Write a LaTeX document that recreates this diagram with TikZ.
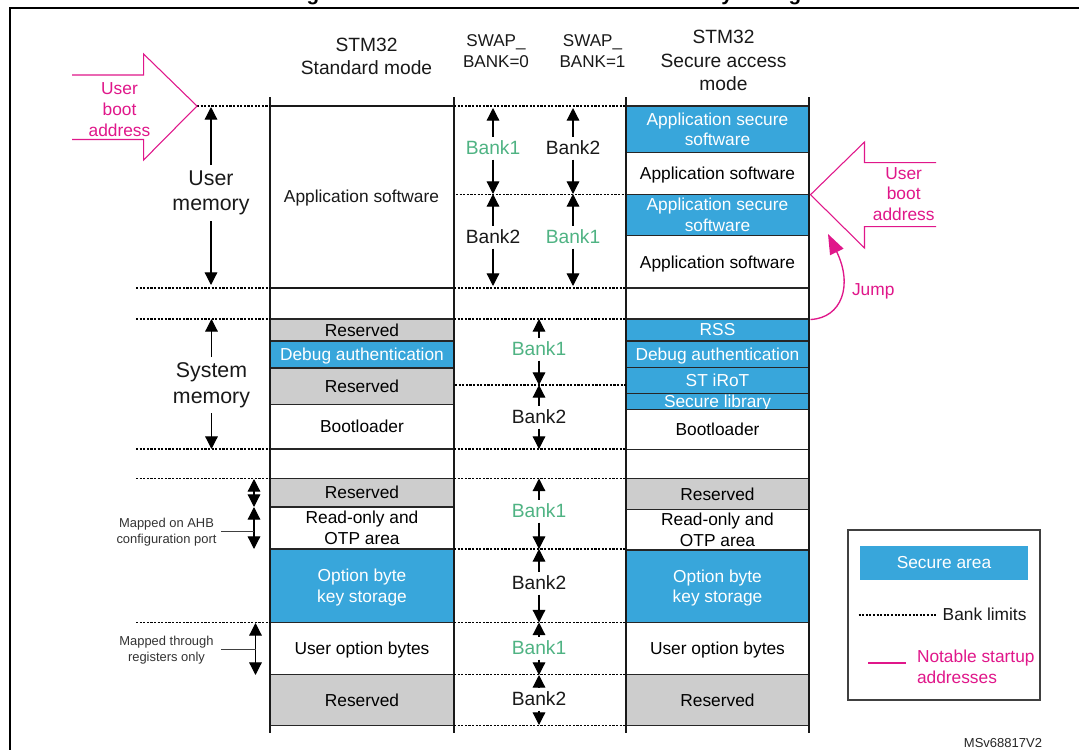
\documentclass[tikz,border=0pt]{standalone}
\usepackage{fontspec}
\setmainfont{Liberation Sans}
\usetikzlibrary{arrows.meta}
\definecolor{secblue}{HTML}{38A6DB}
\definecolor{resgray}{HTML}{CDCDCD}
\definecolor{notepink}{HTML}{E0178A}
\definecolor{bankgreen}{HTML}{4FB383}
\newcommand\nodp[1]{\raisebox{0pt}[\height][0pt]{#1}}
\tikzset{
  rowbox/.style={draw=black!85,line width=0.9pt,inner sep=0pt,outer sep=0pt,align=center,font=\fontsize{13}{15.6}\selectfont,text=black!90},
  lab/.style={inner sep=0pt,outer sep=0pt,align=center},
  headlab/.style={lab,font=\fontsize{14.4}{17.6}\selectfont,text=black!90},
  swaplab/.style={lab,font=\fontsize{12.8}{15.4}\selectfont,text=black!90},
  banklab/.style={lab,font=\fontsize{14.4}{16}\selectfont,minimum height=17.25pt},
  memlab/.style={lab,font=\fontsize{16}{19.3}\selectfont,text=black!90,minimum height=42pt},
  picklab/.style={lab,font=\fontsize{13}{15.6}\selectfont,text=notepink},
  smalllab/.style={lab,font=\fontsize{9.7}{11.6}\selectfont,text=black!80},
  arr/.style={-{Triangle[width=9.5pt,length=9.5pt]},line width=0.9pt,black},
  bothend/.style={{Triangle[width=9.5pt,length=9.5pt]}-{Triangle[width=9.5pt,length=9.5pt]},line width=0.9pt,black},
  limit/.style={line width=1pt,black,dash pattern=on 1.6pt off 1.1pt},
  colline/.style={line width=1.5pt,black!90},
  pinkline/.style={line width=0.8pt,notepink},
  leader/.style={line width=0.7pt,black!75},
}
% name, x1, y1, x2, y2, fill, text colour, text
\newcommand\cellbox[8]{%
  \pgfmathsetmacro\cx{(#2+#4)/2}\pgfmathsetmacro\cy{(#3+#5)/2}%
  \pgfmathsetmacro\cw{(#4-#2)*0.75}\pgfmathsetmacro\ch{(#5-#3)*0.75}%
  \node[rowbox,fill=#6,text=#7,minimum width=\cw pt,minimum height=\ch pt] (#1) at (\cx,\cy) {#8};}
% name, x, y, text, colour, top tip, bottom tip
\newcommand\bankitem[7]{%
  \node[banklab,text=#5] (#1) at (#2,#3) {#4};
  \coordinate (#1t) at (#2,#6);
  \coordinate (#1b) at (#2,#7);
  \draw[arr] (#1.north) -- (#1t);
  \draw[arr] (#1.south) -- (#1b);}
% name, x1, x2, y
\newcommand\limitline[4]{%
  \coordinate (#1a) at (#2,#4);\coordinate (#1b) at (#3,#4);
  \draw[limit] (#1a) -- (#1b);}
\begin{document}
\begin{tikzpicture}[x=0.75pt,y=-0.75pt]
\useasboundingbox (0,0) rectangle (1079,750);
\fill[white] (0,0) rectangle (1079,750);
% clipped title descenders
\begin{scope}
\clip (0,0) rectangle (1079,7);
\node[lab,anchor=base,font=\fontsize{15.5}{18}\bfseries\selectfont] (tg1) at (313,0) {g};
\node[lab,anchor=base,font=\fontsize{15.5}{18}\bfseries\selectfont] (ty) at (727,0) {y};
\node[lab,anchor=base,font=\fontsize{15.5}{18}\bfseries\selectfont] (tg2) at (795,0) {g};
\end{scope}
% frame
\coordinate (fb) at (9.5,750);\coordinate (ft) at (9.5,7.5);\coordinate (fr) at (1079,7.5);
\draw[line width=1.5pt,black] (fb) -- (ft) -- (fr);
% left column
\cellbox{la}{270}{106}{454}{288}{white}{black}{}
\cellbox{lb}{270}{288}{454}{319}{white}{black}{}
\cellbox{lc}{270}{319}{454}{341}{resgray}{black}{Reserved}
\cellbox{ld}{270}{341}{454}{368}{secblue}{white}{\nodp{Debug authentication}}
\cellbox{le}{270}{368}{454}{404.5}{resgray}{black}{Reserved}
\cellbox{lf}{270}{404.5}{454}{449}{white}{black}{Bootloader}
\cellbox{lg}{270}{449}{454}{478.5}{white}{black}{}
\cellbox{lh}{270}{478.5}{454}{507}{resgray}{black}{Reserved}
\cellbox{li}{270}{507}{454}{549}{white}{black}{Read-only and\\OTP area}
\cellbox{lj}{270}{549}{454}{622.5}{secblue}{white}{Option byte\\\nodp{key storage}}
\cellbox{lk}{270}{622.5}{454}{674.5}{white}{black}{\nodp{User option bytes}}
\cellbox{ll}{270}{674.5}{454}{725.5}{resgray}{black}{Reserved}
\draw[colline] (la.north west) rectangle (la.south east);
\node[rowbox,draw=none,text=black!90] (latext) at (361.5,196.5) {\nodp{Application software}};
% right column
\cellbox{ra}{626}{106}{809}{152.7}{secblue}{white}{Application secure\\software}
\cellbox{rb}{626}{152.7}{809}{194.5}{white}{black}{\nodp{Application software}}
\cellbox{rc}{626}{194.5}{809}{235.7}{secblue}{white}{Application secure\\software}
\cellbox{rd}{626}{235.7}{809}{288}{white}{black}{\nodp{Application software}}
\cellbox{re}{626}{288}{809}{319}{white}{black}{}
\cellbox{rf}{626}{319}{809}{341}{secblue}{white}{RSS}
\cellbox{rg}{626}{341}{809}{367.3}{secblue}{white}{\nodp{Debug authentication}}
\cellbox{rh}{626}{367.3}{809}{393.3}{secblue}{white}{ST iRoT}
\cellbox{ri}{626}{393.3}{809}{409.7}{secblue}{white}{\nodp{Secure library}}
\cellbox{rj}{626}{409.7}{809}{449.7}{white}{black}{Bootloader}
\cellbox{rk}{626}{449.7}{809}{478.5}{white}{black}{}
\cellbox{rl}{626}{478.5}{809}{509.3}{resgray}{black}{Reserved}
\cellbox{rm}{626}{509.3}{809}{550}{white}{black}{Read-only and\\OTP area}
\cellbox{rn}{626}{550}{809}{622.5}{secblue}{white}{Option byte\\\nodp{key storage}}
\cellbox{ro}{626}{622.5}{809}{674.5}{white}{black}{\nodp{User option bytes}}
\cellbox{rp}{626}{674.5}{809}{725.5}{resgray}{black}{Reserved}
% column verticals
\foreach \n/\x in {ca/270,cb/454,cc/626,cd/809}{
  \coordinate (\n t) at (\x,97);\coordinate (\n b) at (\x,733);
  \draw[colline] (\n t) -- (\n b);}
% bank limits
\limitline{m1}{454}{626}{106}
\limitline{m2}{456}{626}{194.3}
\limitline{m3}{454}{626}{288}
\limitline{m4}{454}{626}{319}
\limitline{m5}{455}{626}{385}
\limitline{m6}{454}{626}{449}
\limitline{m7}{454}{626}{478.7}
\limitline{m8}{454}{626}{549}
\limitline{m9}{454}{626}{622.7}
\limitline{m10}{454}{626}{674.7}
\limitline{m11}{454}{626}{725.3}
\limitline{w1}{197}{270}{106}
\limitline{w2}{136}{270}{288}
\limitline{w3}{136}{270}{319}
\limitline{w4}{136}{270}{449}
\limitline{w5}{136}{270}{478.7}
\limitline{w6}{136}{270}{622.7}
% headers
\node[headlab] (h1) at (366.5,56.5) {STM32\\Standard mode};
\node[swaplab] (h2) at (496,51) {SWAP\_\\BANK=0};
\node[swaplab] (h3) at (592.5,51) {SWAP\_\\BANK=1};
\node[headlab] (h4) at (723.5,60.5) {STM32\\Secure access\\mode};
% bank arrows
\bankitem{ba}{493}{148}{Bank1}{bankgreen}{108}{194}
\bankitem{bb}{493}{237}{Bank2}{black!90}{194}{286}
\bankitem{bc}{573}{148}{Bank2}{black!90}{108}{194}
\bankitem{bd}{573}{237}{Bank1}{bankgreen}{194}{286}
\bankitem{be}{539}{349}{Bank1}{bankgreen}{319}{385}
\bankitem{bf}{539}{417}{Bank2}{black!90}{385}{449}
\bankitem{bg}{539}{511}{Bank1}{bankgreen}{478.5}{549}
\bankitem{bh}{539}{583}{Bank2}{black!90}{549}{622.5}
\bankitem{bi}{539}{648}{Bank1}{bankgreen}{622.5}{675}
\bankitem{bj}{539}{699}{Bank2}{black!90}{675}{725}
% memory labels
\node[memlab] (um) at (211,193) {User\\memory};
\coordinate (umt) at (211,107);\coordinate (umb) at (211,285);
\draw[arr] (um.north) -- (umt);
\draw[arr] (um.south) -- (umb);
\node[memlab] (sm) at (211.5,385) {System\\memory};
\coordinate (smt) at (211.5,319);\coordinate (smb) at (211.5,449);
\draw[arr] (sm.north) -- (smt);
\draw[arr] (sm.south) -- (smb);
% mapped annotations
\coordinate (a1t) at (254,479);\coordinate (a1b) at (254,507);
\coordinate (a2t) at (254,507);\coordinate (a2b) at (254,549);
\draw[bothend] (a1t) -- (a1b);
\draw[bothend] (a2t) -- (a2b);
\node[smalllab] (m1lab) at (166.5,532) {Mapped on AHB\\configuration port};
\coordinate (l1a) at (221,531);\coordinate (l1b) at (254,531);
\draw[leader] (l1a) -- (l1b);
\coordinate (a3t) at (255.5,623);\coordinate (a3b) at (255.5,675);
\draw[bothend] (a3t) -- (a3b);
\node[smalllab] (m2lab) at (166.5,650) {Mapped through\\registers only};
\coordinate (l2a) at (221,649);\coordinate (l2b) at (255.5,649);
\draw[leader] (l2a) -- (l2b);
% pink boot arrows
\draw[pinkline] (72,75) -- (143.6,75) -- (143.6,54) -- (197,106) -- (143.6,160) -- (143.6,139.5) -- (72,139.5);
\node[picklab] (ub1) at (119.5,109.5) {User\\boot\\address};
\draw[pinkline] (936,162.7) -- (864.5,162.7) -- (864.5,142) -- (810.5,194.7) -- (864.5,248) -- (864.5,226.7) -- (936,226.7);
\node[picklab] (ub2) at (903.7,194) {User\\boot\\address};
% jump
\coordinate (js) at (810.5,319.5);\coordinate (jt) at (828,234);
\draw[notepink,line width=1pt,-{Triangle[width=11pt,length=15pt]}] (js) .. controls (842,318) and (853,285) .. (jt);
\node[picklab,anchor=west] (jl) at (852,291.5) {Jump};
% legend
\node[draw=black!75,line width=1pt,minimum width=144pt,minimum height=127.5pt,inner sep=0pt] (lgd) at (944,615) {};
\cellbox{ls}{861}{546.7}{1027}{579}{secblue}{white}{Secure area}
\draw[secblue,line width=0.9pt] (ls.north west) rectangle (ls.south east);
\node[rowbox,draw=none,anchor=west,text=black!90] (lbl) at (942.7,614) {Bank limits};
\coordinate (lla) at (858.5,615);\coordinate (llb) at (936,615);
\draw[limit] (lla) -- (llb);
\coordinate (lpa) at (868,663);\coordinate (lpb) at (905.7,663);
\draw[notepink,line width=1pt] (lpa) -- (lpb);
\node[picklab,anchor=west,align=left] (lnt) at (917,667) {Notable startup\\addresses};
\node[lab,anchor=east,font=\fontsize{9.75}{11}\selectfont,text=black!85] (ver) at (1042,743.5) {MSv68817V2};
\end{tikzpicture}
\end{document}
